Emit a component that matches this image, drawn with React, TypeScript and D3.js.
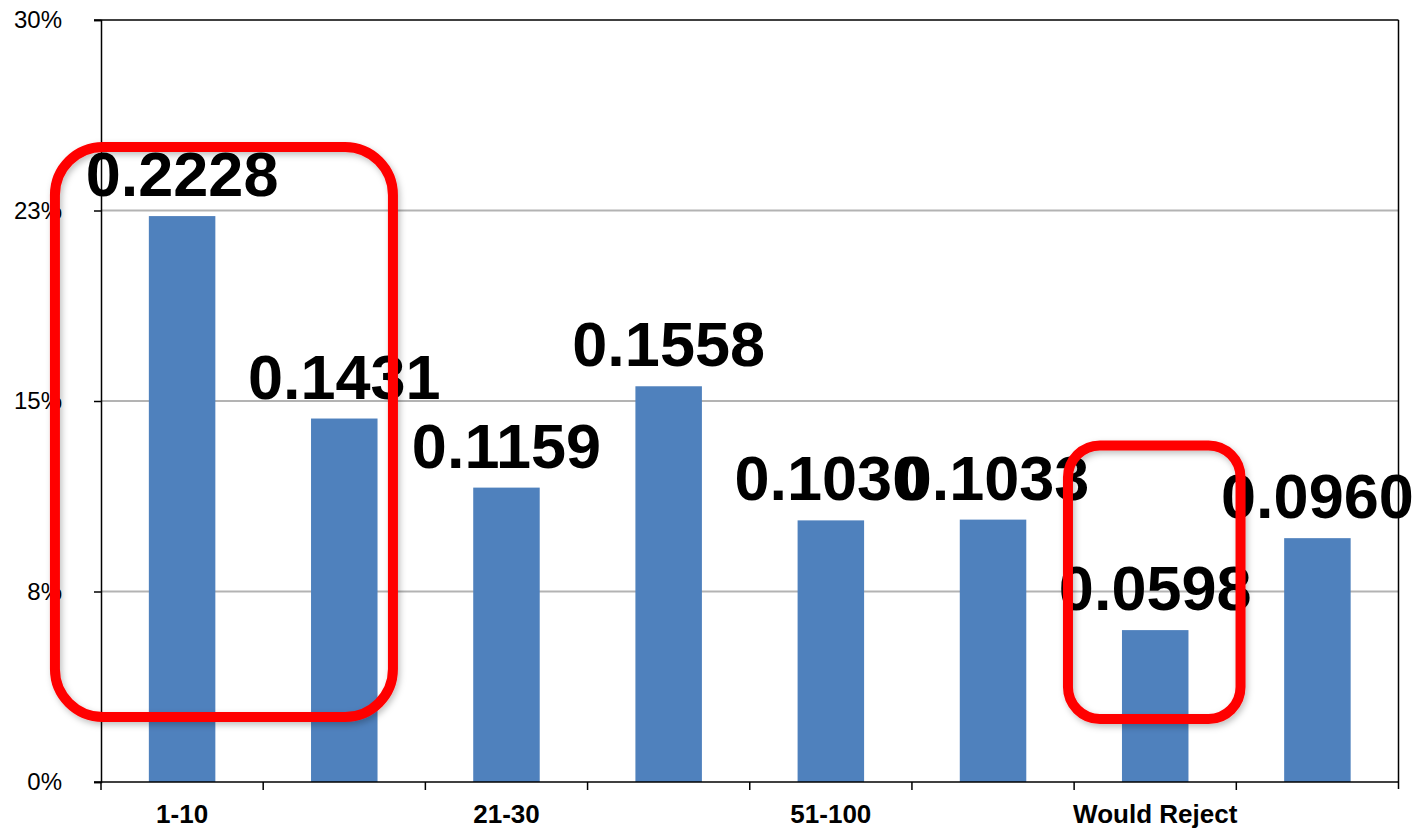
import React, { useEffect, useRef } from 'react';
import * as d3 from 'd3';

const categories = ['1-10', '11-20', '21-30', '31-50', '51-100', '100+', 'Would Reject', 'No Answer'];
const shares = [0.2228, 0.1431, 0.1159, 0.1558, 0.103, 0.1033, 0.0598, 0.096];
const yTicks = [0, 0.075, 0.15, 0.225, 0.3];

// red highlight boxes: first/last category, offsets in band widths, value range
const highlights = [
  { from: '1-10', to: '11-20', padL: 0.284, padR: -0.2, top: 0.25, bottom: 0.0256, radius: 48 },
  { from: 'Would Reject', to: 'Would Reject', padL: 0.038, padR: 0.026, top: 0.1325, bottom: 0.0248, radius: 32 },
];

const W = 1412;
const H = 828;
const FONT = '"Liberation Sans", Arial, Helvetica, sans-serif';

const App: React.FC = () => {
  const svgRef = useRef<SVGSVGElement>(null);

  useEffect(() => {
    const svg = d3.select(svgRef.current);
    svg.selectAll('*').remove();

    const left = 101, right = 1398.5, top = 20, bottom = 782;

    const x = d3.scaleBand<string>().domain(categories).range([left, right]).padding(0);
    const y = d3.scaleLinear().domain([0, 0.3]).range([bottom, top]);
    const bw = x.bandwidth();
    const barW = bw * 0.41;

    const defs = svg.append('defs');
    const f = defs.append('filter').attr('id', 'shadow').attr('x', '-10%').attr('y', '-10%')
      .attr('width', '130%').attr('height', '130%');
    f.append('feDropShadow').attr('dx', 2).attr('dy', 3).attr('stdDeviation', 3)
      .attr('flood-color', '#000').attr('flood-opacity', 0.25);

    // gridlines
    svg.append('g')
      .selectAll('line')
      .data(yTicks.filter(t => t > 0 && t < 0.3))
      .enter()
      .append('line')
      .attr('x1', left).attr('x2', right)
      .attr('y1', d => y(d)).attr('y2', d => y(d))
      .attr('stroke', '#b3b3b3').attr('stroke-width', 2);

    // bars
    svg.append('g')
      .selectAll('rect')
      .data(shares)
      .enter()
      .append('rect')
      .attr('x', (d, i) => (x(categories[i]) as number) + (bw - barW) / 2)
      .attr('y', d => y(d))
      .attr('width', barW)
      .attr('height', d => bottom - y(d))
      .attr('fill', '#4f81bd');

    // y axis
    const yAxis = svg.append('g')
      .attr('transform', `translate(${left},0)`)
      .call(d3.axisLeft(y).tickValues(yTicks).tickSize(7).tickPadding(32)
        .tickFormat(d => Math.round((d as number) * 100) + '%'));
    yAxis.select('.domain').attr('stroke', '#000').attr('stroke-width', 1.5);
    yAxis.selectAll('.tick line').attr('stroke', '#000').attr('stroke-width', 1.5);
    yAxis.selectAll('text')
      .style('font-family', FONT)
      .style('font-size', '24px')
      .attr('fill', '#000');

    // top + right frame
    svg.append('line').attr('x1', left - 7).attr('x2', right).attr('y1', top).attr('y2', top)
      .attr('stroke', '#000').attr('stroke-width', 1.5);
    svg.append('line').attr('x1', right).attr('x2', right).attr('y1', top).attr('y2', bottom + 7)
      .attr('stroke', '#000').attr('stroke-width', 1.5);

    // x axis
    svg.append('line').attr('x1', left - 7).attr('x2', right).attr('y1', bottom).attr('y2', bottom)
      .attr('stroke', '#000').attr('stroke-width', 1.5);
    svg.append('g')
      .selectAll('line')
      .data(categories)
      .enter()
      .append('line')
      .attr('x1', d => x(d) as number).attr('x2', d => x(d) as number)
      .attr('y1', bottom).attr('y2', bottom + 8)
      .attr('stroke', '#000').attr('stroke-width', 1.5);

    svg.append('g')
      .selectAll('text')
      .data(categories.filter((d, i) => i % 2 === 0))
      .enter()
      .append('text')
      .attr('x', d => (x(d) as number) + bw / 2)
      .attr('y', 823)
      .attr('text-anchor', 'middle')
      .style('font-family', FONT)
      .style('font-size', '26px')
      .style('font-weight', 'bold')
      .text(d => d);

    // value labels
    svg.append('g')
      .selectAll('text')
      .data(shares)
      .enter()
      .append('text')
      .attr('x', (d, i) => (x(categories[i]) as number) + bw / 2)
      .attr('y', d => y(d) - 20)
      .attr('text-anchor', 'middle')
      .style('font-family', FONT)
      .style('font-size', '63px')
      .style('font-weight', 'bold')
      .attr('fill', '#000')
      .text(d => d.toFixed(4));

    // highlight boxes
    svg.append('g')
      .selectAll('rect')
      .data(highlights)
      .enter()
      .append('rect')
      .attr('x', d => (x(d.from) as number) - bw * d.padL)
      .attr('y', d => y(d.top))
      .attr('width', d => (x(d.to) as number) + bw * (1 + d.padR) - ((x(d.from) as number) - bw * d.padL))
      .attr('height', d => y(d.bottom) - y(d.top))
      .attr('rx', d => d.radius)
      .attr('fill', 'none')
      .attr('stroke', '#ff0000')
      .attr('stroke-width', 10)
      .attr('filter', 'url(#shadow)');
  }, []);

  return (
    <svg
      ref={svgRef}
      width={W}
      height={H}
      style={{ position: 'absolute', left: 0, top: 0, background: '#fff' }}
    />
  );
};

export default App;
